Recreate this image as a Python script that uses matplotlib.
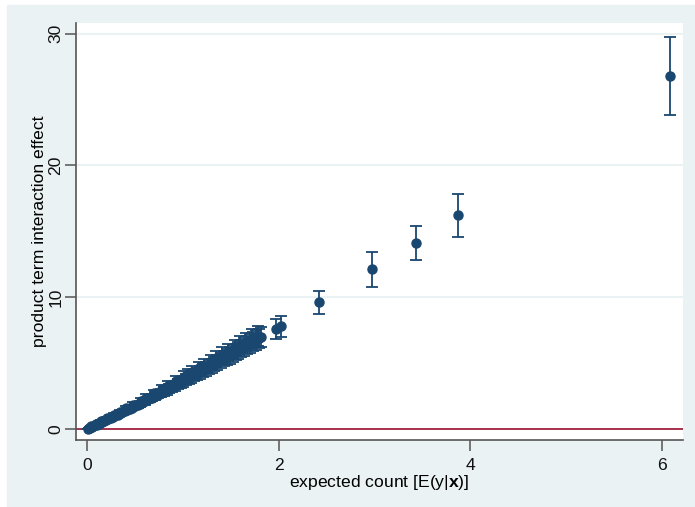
import numpy as np
import matplotlib.pyplot as plt
from matplotlib.patches import Rectangle

plt.rcParams['font.family'] = ['Liberation Sans', 'DejaVu Sans']
plt.rcParams['mathtext.fontset'] = 'custom'
plt.rcParams['mathtext.rm'] = 'Liberation Sans'
plt.rcParams['mathtext.bf'] = 'Liberation Sans:bold'

# expected count E(y|x)
mu = [0.01, 0.02, 0.03, 0.05, 0.06, 0.08, 0.10, 0.12, 0.14, 0.16, 0.18, 0.20,
      0.22, 0.25, 0.27, 0.30, 0.32, 0.35, 0.37, 0.40, 0.42, 0.45, 0.47, 0.50,
      0.53, 0.55, 0.58, 0.60, 0.63, 0.66, 0.68, 0.71, 0.74, 0.77, 0.80, 0.83,
      0.86, 0.89, 0.92, 0.95, 0.98, 1.00, 1.03, 1.06, 1.09, 1.12, 1.15, 1.18,
      1.21, 1.24, 1.27, 1.30, 1.33, 1.36, 1.40, 1.43, 1.46, 1.49, 1.52, 1.55,
      1.58, 1.61, 1.64, 1.67, 1.70, 1.73, 1.76, 1.79, 1.82,
      1.97, 2.02, 2.42, 2.97, 3.43, 3.87, 6.08,
      # second group of observations, lying a little above the first
      0.04, 0.09, 0.15, 0.21, 0.28, 0.34, 0.41, 0.48, 0.56, 0.62, 0.70, 0.78,
      0.85, 0.93, 1.01, 1.05, 1.10, 1.17, 1.22, 1.29, 1.35, 1.41, 1.47, 1.54,
      1.60, 1.66, 1.72, 1.78]

# product term interaction effect
effect = [0.03, 0.07, 0.10, 0.17, 0.20, 0.27, 0.33, 0.40, 0.47, 0.54, 0.60, 0.67,
          0.74, 0.84, 0.91, 1.02, 1.09, 1.19, 1.26, 1.37, 1.44, 1.55, 1.62, 1.73,
          1.83, 1.91, 2.02, 2.09, 2.20, 2.31, 2.38, 2.49, 2.61, 2.72, 2.83, 2.95,
          3.06, 3.17, 3.29, 3.41, 3.52, 3.60, 3.72, 3.84, 3.95, 4.07, 4.19, 4.31,
          4.43, 4.55, 4.68, 4.80, 4.92, 5.04, 5.21, 5.33, 5.46, 5.58, 5.71, 5.84,
          5.96, 6.09, 6.22, 6.35, 6.48, 6.61, 6.74, 6.87, 7.00,
          7.60, 7.80, 9.60, 12.10, 14.10, 16.20, 26.80,
          0.20, 0.38, 0.60, 0.82, 1.08, 1.30, 1.58, 1.85, 2.15, 2.38, 2.70, 3.00,
          3.28, 3.60, 3.95, 4.15, 4.30, 4.60, 4.80, 5.10, 5.35, 5.60, 5.85, 6.15,
          6.40, 6.60, 6.85, 7.05]

# half-width of the confidence interval
ci_half = [0.00, 0.01, 0.01, 0.02, 0.02, 0.03, 0.04, 0.05, 0.06, 0.07, 0.07, 0.08,
           0.09, 0.10, 0.11, 0.12, 0.13, 0.14, 0.15, 0.16, 0.17, 0.18, 0.19, 0.20,
           0.21, 0.22, 0.23, 0.24, 0.25, 0.27, 0.28, 0.29, 0.30, 0.31, 0.33, 0.34,
           0.35, 0.36, 0.38, 0.39, 0.40, 0.41, 0.42, 0.44, 0.45, 0.46, 0.47, 0.49,
           0.50, 0.51, 0.52, 0.54, 0.55, 0.56, 0.58, 0.59, 0.60, 0.62, 0.63, 0.64,
           0.66, 0.67, 0.68, 0.70, 0.71, 0.72, 0.74, 0.75, 0.76,
           0.75, 0.80, 0.90, 1.35, 1.30, 1.60, 2.95,
           0.02, 0.04, 0.06, 0.09, 0.11, 0.14, 0.17, 0.20, 0.23, 0.25, 0.29, 0.32,
           0.35, 0.38, 0.41, 0.43, 0.45, 0.48, 0.50, 0.53, 0.55, 0.58, 0.60, 0.63,
           0.66, 0.68, 0.71, 0.73]

navy = '#1A476F'
bg = '#EAF2F3'

fig = plt.figure(figsize=(6.95, 5.07), dpi=100, facecolor='white')
fig.patches.append(Rectangle((7 / 695, 0), 1, 1 - 5 / 507,
                             transform=fig.transFigure, color=bg, zorder=-1))
ax = fig.add_axes([76 / 695, 1 - 440 / 507, (683 - 76) / 695, (440 - 23) / 507])
ax.set_facecolor('white')

for y in [10, 20, 30]:
    ax.axhline(y, color=bg, lw=1.5, zorder=0)
ax.axhline(0, color='#A0213F', lw=1.3, zorder=1)

ax.errorbar(mu, effect, yerr=ci_half, fmt='o', color=navy, ms=6.5,
            ecolor=navy, elinewidth=1.3, capsize=4.5, capthick=1.3, zorder=3)

ax.set_xlim(-0.115, 6.22)
ax.set_ylim(-0.84, 30.8)
ax.set_xticks([0, 2, 4, 6])
ax.set_yticks([0, 10, 20, 30])

for s in ['top', 'right']:
    ax.spines[s].set_visible(False)
for s in ['left', 'bottom']:
    ax.spines[s].set_color('#555555')
    ax.spines[s].set_linewidth(1.2)

ax.tick_params(axis='both', length=8, width=1.1, color='#555555',
               labelsize=12.6, labelcolor='#111111')
ax.tick_params(axis='x', pad=5)
ax.tick_params(axis='y', pad=1)
for lab in ax.get_yticklabels():
    lab.set_rotation(90)
    lab.set_va('center')

ax.set_xlabel(r'expected count [E(y|$\mathbf{x}$)]', fontsize=12.6, labelpad=0)
ax.set_ylabel('product term interaction effect', fontsize=12.6, labelpad=1)

fig.savefig('out.png', dpi=100, facecolor=fig.get_facecolor())
